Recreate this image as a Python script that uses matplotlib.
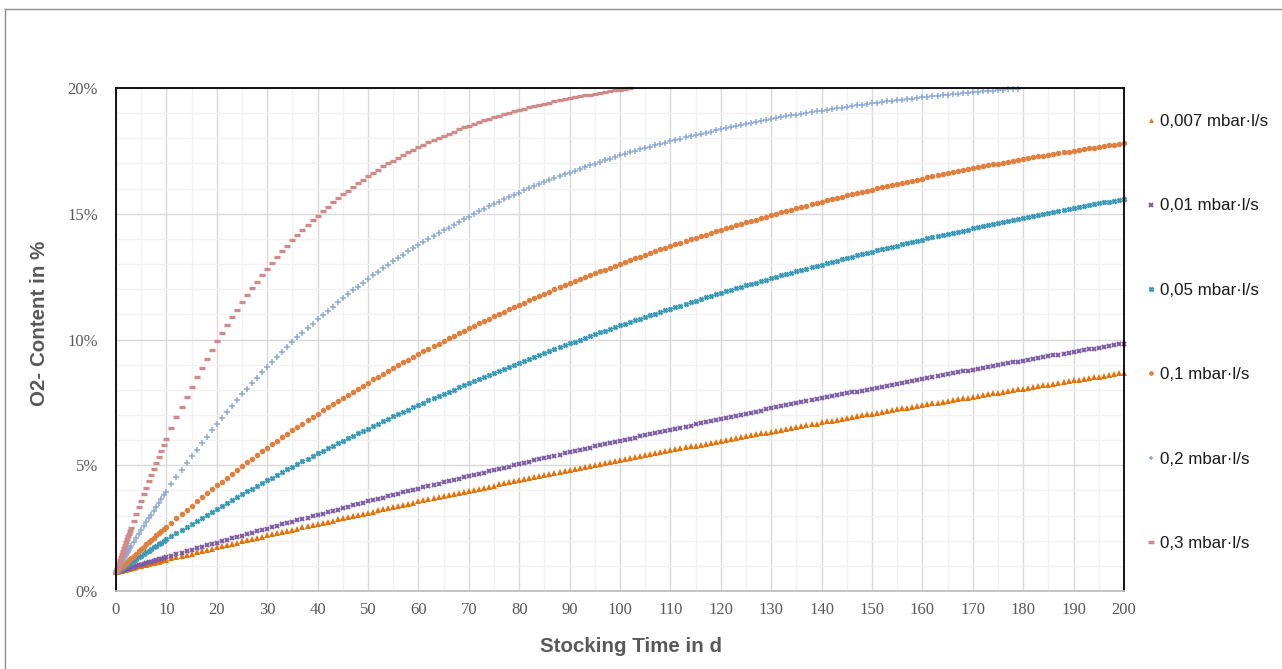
import matplotlib
matplotlib.use("Agg")
import matplotlib.pyplot as plt
from matplotlib.lines import Line2D
from matplotlib.ticker import MultipleLocator, PercentFormatter

# --- data (O2 content in %, per day) ---
days_early = [0, 0.2, 0.4, 0.6, 0.8, 1.0, 1.2, 1.4, 1.6, 1.8, 2.0, 2.2, 2.4, 2.6, 2.8, 3.0,
              3.5, 4, 4.5, 5, 5.5, 6, 6.5, 7, 7.5, 8, 8.5, 9, 9.5, 10]
days_daily = list(range(11, 201))

labels = ["0,007 mbar·l/s", "0,01 mbar·l/s", "0,05 mbar·l/s",
          "0,1 mbar·l/s", "0,2 mbar·l/s", "0,3 mbar·l/s"]

leak_0007 = [0.75, 0.76, 0.77, 0.78, 0.79, 0.80, 0.81, 0.82, 0.83, 0.84, 0.85, 0.86, 0.87, 0.88, 0.89, 0.90,
             0.93, 0.95, 0.98, 1.00, 1.03, 1.05, 1.07, 1.10, 1.12, 1.15, 1.17, 1.20, 1.22, 1.25,
             1.30, 1.34, 1.39, 1.44, 1.49, 1.54, 1.59, 1.64, 1.68, 1.73,
             1.78, 1.83, 1.87, 1.92, 1.97, 2.02, 2.06, 2.11, 2.16, 2.21,
             2.25, 2.30, 2.34, 2.39, 2.44, 2.48, 2.53, 2.58, 2.62, 2.67,
             2.71, 2.76, 2.80, 2.85, 2.89, 2.94, 2.98, 3.03, 3.07, 3.12,
             3.16, 3.21, 3.25, 3.29, 3.34, 3.38, 3.43, 3.47, 3.51, 3.56,
             3.60, 3.64, 3.69, 3.73, 3.77, 3.81, 3.86, 3.90, 3.94, 3.98,
             4.03, 4.07, 4.11, 4.15, 4.19, 4.24, 4.28, 4.32, 4.36, 4.40,
             4.44, 4.48, 4.52, 4.57, 4.61, 4.65, 4.69, 4.73, 4.77, 4.81,
             4.85, 4.89, 4.93, 4.97, 5.01, 5.05, 5.09, 5.13, 5.17, 5.21,
             5.25, 5.28, 5.32, 5.36, 5.40, 5.44, 5.48, 5.52, 5.56, 5.59,
             5.63, 5.67, 5.71, 5.75, 5.78, 5.82, 5.86, 5.90, 5.93, 5.97,
             6.01, 6.05, 6.08, 6.12, 6.16, 6.19, 6.23, 6.27, 6.30, 6.34,
             6.38, 6.41, 6.45, 6.48, 6.52, 6.56, 6.59, 6.63, 6.66, 6.70,
             6.74, 6.77, 6.81, 6.84, 6.88, 6.91, 6.95, 6.98, 7.02, 7.05,
             7.09, 7.12, 7.15, 7.19, 7.22, 7.26, 7.29, 7.32, 7.36, 7.39,
             7.43, 7.46, 7.49, 7.53, 7.56, 7.59, 7.63, 7.66, 7.69, 7.73,
             7.76, 7.79, 7.82, 7.86, 7.89, 7.92, 7.95, 7.99, 8.02, 8.05,
             8.08, 8.12, 8.15, 8.18, 8.21, 8.24, 8.27, 8.31, 8.34, 8.37,
             8.40, 8.43, 8.46, 8.49, 8.52, 8.55, 8.59, 8.62, 8.65, 8.68]

leak_001 = [0.75, 0.76, 0.77, 0.79, 0.80, 0.81, 0.82, 0.83, 0.85, 0.86, 0.87, 0.88, 0.89, 0.91, 0.92, 0.93,
            0.96, 0.99, 1.02, 1.05, 1.08, 1.11, 1.14, 1.17, 1.20, 1.23, 1.26, 1.29, 1.32, 1.35,
            1.40, 1.46, 1.52, 1.58, 1.63, 1.69, 1.75, 1.81, 1.87, 1.92,
            1.98, 2.04, 2.09, 2.15, 2.20, 2.26, 2.32, 2.37, 2.43, 2.48,
            2.54, 2.59, 2.65, 2.70, 2.76, 2.81, 2.87, 2.92, 2.97, 3.03,
            3.08, 3.13, 3.19, 3.24, 3.29, 3.35, 3.40, 3.45, 3.50, 3.56,
            3.61, 3.66, 3.71, 3.76, 3.81, 3.86, 3.92, 3.97, 4.02, 4.07,
            4.12, 4.17, 4.22, 4.27, 4.32, 4.37, 4.42, 4.47, 4.52, 4.57,
            4.61, 4.66, 4.71, 4.76, 4.81, 4.86, 4.90, 4.95, 5.00, 5.05,
            5.10, 5.14, 5.19, 5.24, 5.28, 5.33, 5.38, 5.42, 5.47, 5.52,
            5.56, 5.61, 5.65, 5.70, 5.75, 5.79, 5.84, 5.88, 5.93, 5.97,
            6.02, 6.06, 6.10, 6.15, 6.19, 6.24, 6.28, 6.33, 6.37, 6.41,
            6.46, 6.50, 6.54, 6.58, 6.63, 6.67, 6.71, 6.76, 6.80, 6.84,
            6.88, 6.92, 6.97, 7.01, 7.05, 7.09, 7.13, 7.17, 7.22, 7.26,
            7.30, 7.34, 7.38, 7.42, 7.46, 7.50, 7.54, 7.58, 7.62, 7.66,
            7.70, 7.74, 7.78, 7.82, 7.86, 7.90, 7.93, 7.97, 8.01, 8.05,
            8.09, 8.13, 8.17, 8.20, 8.24, 8.28, 8.32, 8.36, 8.39, 8.43,
            8.47, 8.51, 8.54, 8.58, 8.62, 8.65, 8.69, 8.73, 8.76, 8.80,
            8.84, 8.87, 8.91, 8.94, 8.98, 9.01, 9.05, 9.09, 9.12, 9.16,
            9.19, 9.23, 9.26, 9.30, 9.33, 9.37, 9.40, 9.44, 9.47, 9.50,
            9.54, 9.57, 9.61, 9.64, 9.67, 9.71, 9.74, 9.77, 9.81, 9.84]

leak_005 = [0.75, 0.78, 0.80, 0.83, 0.86, 0.88, 0.91, 0.94, 0.96, 0.99, 1.02, 1.04, 1.07, 1.10, 1.12, 1.15,
            1.21, 1.28, 1.35, 1.41, 1.48, 1.54, 1.61, 1.67, 1.73, 1.80, 1.86, 1.92, 1.99, 2.05,
            2.18, 2.30, 2.42, 2.55, 2.67, 2.79, 2.91, 3.03, 3.15, 3.27,
            3.38, 3.50, 3.62, 3.73, 3.84, 3.96, 4.07, 4.18, 4.29, 4.40,
            4.51, 4.62, 4.73, 4.84, 4.95, 5.05, 5.16, 5.26, 5.37, 5.47,
            5.57, 5.67, 5.77, 5.88, 5.98, 6.07, 6.17, 6.27, 6.37, 6.46,
            6.56, 6.66, 6.75, 6.84, 6.94, 7.03, 7.12, 7.21, 7.31, 7.40,
            7.49, 7.58, 7.66, 7.75, 7.84, 7.93, 8.01, 8.10, 8.18, 8.27,
            8.35, 8.43, 8.52, 8.60, 8.68, 8.76, 8.84, 8.92, 9.00, 9.08,
            9.16, 9.24, 9.32, 9.39, 9.47, 9.55, 9.62, 9.70, 9.77, 9.85,
            9.92, 9.99, 10.06, 10.14, 10.21, 10.28, 10.35, 10.42, 10.49, 10.56,
            10.63, 10.70, 10.76, 10.83, 10.90, 10.96, 11.03, 11.10, 11.16, 11.23,
            11.29, 11.35, 11.42, 11.48, 11.54, 11.60, 11.67, 11.73, 11.79, 11.85,
            11.91, 11.97, 12.03, 12.09, 12.15, 12.21, 12.26, 12.32, 12.38, 12.43,
            12.49, 12.55, 12.60, 12.66, 12.71, 12.77, 12.82, 12.87, 12.93, 12.98,
            13.03, 13.08, 13.14, 13.19, 13.24, 13.29, 13.34, 13.39, 13.44, 13.49,
            13.54, 13.59, 13.64, 13.69, 13.73, 13.78, 13.83, 13.88, 13.92, 13.97,
            14.02, 14.06, 14.11, 14.15, 14.20, 14.24, 14.29, 14.33, 14.37, 14.42,
            14.46, 14.50, 14.54, 14.59, 14.63, 14.67, 14.71, 14.75, 14.79, 14.84,
            14.88, 14.92, 14.96, 14.99, 15.03, 15.07, 15.11, 15.15, 15.19, 15.23,
            15.26, 15.30, 15.34, 15.38, 15.41, 15.45, 15.48, 15.52, 15.56, 15.59]

leak_01 = [0.75, 0.79, 0.83, 0.86, 0.90, 0.94, 0.98, 1.01, 1.05, 1.09, 1.12, 1.16, 1.20, 1.24, 1.27, 1.31,
           1.40, 1.49, 1.58, 1.67, 1.76, 1.85, 1.94, 2.03, 2.12, 2.21, 2.29, 2.38, 2.47, 2.55,
           2.72, 2.89, 3.06, 3.23, 3.39, 3.56, 3.72, 3.88, 4.04, 4.20,
           4.35, 4.51, 4.66, 4.81, 4.96, 5.11, 5.26, 5.40, 5.55, 5.69,
           5.83, 5.97, 6.11, 6.25, 6.39, 6.52, 6.66, 6.79, 6.92, 7.05,
           7.18, 7.31, 7.44, 7.56, 7.69, 7.81, 7.93, 8.05, 8.17, 8.29,
           8.41, 8.52, 8.64, 8.75, 8.87, 8.98, 9.09, 9.20, 9.31, 9.42,
           9.53, 9.63, 9.74, 9.84, 9.94, 10.05, 10.15, 10.25, 10.35, 10.45,
           10.54, 10.64, 10.74, 10.83, 10.92, 11.02, 11.11, 11.20, 11.29, 11.38,
           11.47, 11.56, 11.65, 11.73, 11.82, 11.90, 11.99, 12.07, 12.15, 12.23,
           12.32, 12.40, 12.47, 12.55, 12.63, 12.71, 12.78, 12.86, 12.94, 13.01,
           13.08, 13.16, 13.23, 13.30, 13.37, 13.44, 13.51, 13.58, 13.65, 13.72,
           13.78, 13.85, 13.91, 13.98, 14.04, 14.11, 14.17, 14.23, 14.30, 14.36,
           14.42, 14.48, 14.54, 14.60, 14.66, 14.72, 14.77, 14.83, 14.89, 14.94,
           15.00, 15.05, 15.11, 15.16, 15.22, 15.27, 15.32, 15.37, 15.43, 15.48,
           15.53, 15.58, 15.63, 15.68, 15.73, 15.77, 15.82, 15.87, 15.92, 15.96,
           16.01, 16.05, 16.10, 16.14, 16.19, 16.23, 16.28, 16.32, 16.36, 16.40,
           16.45, 16.49, 16.53, 16.57, 16.61, 16.65, 16.69, 16.73, 16.77, 16.81,
           16.84, 16.88, 16.92, 16.96, 16.99, 17.03, 17.07, 17.10, 17.14, 17.17,
           17.21, 17.24, 17.28, 17.31, 17.34, 17.38, 17.41, 17.44, 17.47, 17.51,
           17.54, 17.57, 17.60, 17.63, 17.66, 17.69, 17.72, 17.75, 17.78, 17.81]

# stops where the curve runs above the 20 % axis limit
leak_02 = [0.75, 0.82, 0.89, 0.96, 1.03, 1.10, 1.16, 1.23, 1.30, 1.37, 1.43, 1.50, 1.57, 1.63, 1.70, 1.77,
           1.93, 2.09, 2.26, 2.42, 2.58, 2.73, 2.89, 3.04, 3.20, 3.35, 3.50, 3.65, 3.80, 3.95,
           4.24, 4.52, 4.80, 5.08, 5.35, 5.61, 5.88, 6.13, 6.39, 6.64,
           6.88, 7.12, 7.36, 7.59, 7.82, 8.04, 8.26, 8.48, 8.69, 8.90,
           9.10, 9.31, 9.50, 9.70, 9.89, 10.08, 10.26, 10.45, 10.63, 10.80,
           10.97, 11.14, 11.31, 11.48, 11.64, 11.80, 11.95, 12.10, 12.25, 12.40,
           12.55, 12.69, 12.83, 12.97, 13.11, 13.24, 13.37, 13.50, 13.63, 13.75,
           13.87, 13.99, 14.11, 14.23, 14.34, 14.45, 14.57, 14.67, 14.78, 14.89,
           14.99, 15.09, 15.19, 15.29, 15.38, 15.48, 15.57, 15.66, 15.75, 15.84,
           15.93, 16.01, 16.09, 16.18, 16.26, 16.34, 16.42, 16.49, 16.57, 16.64,
           16.71, 16.79, 16.86, 16.93, 16.99, 17.06, 17.13, 17.19, 17.26, 17.32,
           17.38, 17.44, 17.50, 17.56, 17.61, 17.67, 17.73, 17.78, 17.83, 17.89,
           17.94, 17.99, 18.04, 18.09, 18.13, 18.18, 18.23, 18.27, 18.32, 18.36,
           18.41, 18.45, 18.49, 18.53, 18.57, 18.61, 18.65, 18.69, 18.73, 18.77,
           18.80, 18.84, 18.87, 18.91, 18.94, 18.98, 19.01, 19.04, 19.07, 19.10,
           19.13, 19.17, 19.19, 19.22, 19.25, 19.28, 19.31, 19.34, 19.36, 19.39,
           19.41, 19.44, 19.47, 19.49, 19.51, 19.54, 19.56, 19.58, 19.61, 19.63,
           19.65, 19.67, 19.69, 19.71, 19.73, 19.75, 19.77, 19.79, 19.81, 19.83,
           19.85, 19.87, 19.88, 19.90, 19.92, 19.94, 19.95, 19.97, 19.98]

leak_03 = [0.75, 0.87, 0.99, 1.11, 1.23, 1.35, 1.47, 1.59, 1.71, 1.82, 1.94, 2.05, 2.17, 2.28, 2.39, 2.51,
           2.78, 3.06, 3.33, 3.59, 3.85, 4.11, 4.36, 4.61, 4.86, 5.10, 5.34, 5.57, 5.80, 6.03,
           6.48, 6.91, 7.33, 7.73, 8.13, 8.51, 8.88, 9.24, 9.59, 9.93,
           10.26, 10.58, 10.89, 11.19, 11.48, 11.76, 12.03, 12.30, 12.56, 12.81,
           13.05, 13.28, 13.51, 13.73, 13.95, 14.15, 14.36, 14.55, 14.74, 14.93,
           15.11, 15.28, 15.45, 15.61, 15.77, 15.92, 16.07, 16.22, 16.36, 16.49,
           16.63, 16.75, 16.88, 17.00, 17.11, 17.23, 17.34, 17.44, 17.55, 17.65,
           17.75, 17.84, 17.93, 18.02, 18.11, 18.19, 18.27, 18.35, 18.43, 18.50,
           18.57, 18.64, 18.71, 18.78, 18.84, 18.90, 18.96, 19.02, 19.07, 19.13,
           19.18, 19.23, 19.28, 19.33, 19.38, 19.42, 19.47, 19.51, 19.55, 19.59,
           19.63, 19.67, 19.71, 19.74, 19.78, 19.81, 19.84, 19.88, 19.91, 19.94,
           19.96, 19.99]

series = [leak_0007, leak_001, leak_005, leak_01, leak_02, leak_03]

# --- look ---
styles = [
    dict(marker="^", color="#E8710A", ms=4.0, mew=0),
    dict(marker="x", color="#7C5BA4", ms=3.4, mew=1.4),
    dict(marker="x", color="#3A9AB6", ms=3.4, mew=1.8),
    dict(marker="o", color="#E0803F", ms=4.0, mew=0),
    dict(marker="+", color="#8EA9DA", ms=4.0, mew=1.1),
    dict(marker="_", color="#CF8B8B", ms=5.0, mew=2.4),
]

GRAY_TXT = "#595959"
SERIF = ["Liberation Serif", "DejaVu Serif"]
SANS = ["Liberation Sans", "DejaVu Sans"]

W, H = 1282, 669
fig = plt.figure(figsize=(W / 100, H / 100), dpi=100)
ax = fig.add_axes([116 / W, 1 - 591 / H, (1124 - 116) / W, (591 - 88) / H])

days = days_early + days_daily
handles = []
for vals, lab, st in zip(series, labels, styles):
    x = days[:len(vals)]
    h, = ax.plot(x, vals, linestyle="none", marker=st["marker"], color=st["color"],
                 markersize=st["ms"], markeredgewidth=st["mew"], label=lab, clip_on=False)
    handles.append(h)

ax.set_xlim(0, 200)
ax.set_ylim(0, 20)
ax.xaxis.set_major_locator(MultipleLocator(10))
ax.xaxis.set_minor_locator(MultipleLocator(5))
ax.yaxis.set_major_locator(MultipleLocator(5))
ax.yaxis.set_minor_locator(MultipleLocator(1))
ax.yaxis.set_major_formatter(PercentFormatter(xmax=100, decimals=0))

ax.grid(True, which="major", color="#d9d9d9", lw=1.0)
ax.grid(True, which="minor", color="#f2f2f2", lw=1.0)
ax.set_axisbelow(True)

for s in ["left", "top", "right"]:
    ax.spines[s].set_color("black")
    ax.spines[s].set_linewidth(1.3)
ax.spines["bottom"].set_color("#bfbfbf")
ax.spines["bottom"].set_linewidth(1.3)

ax.tick_params(which="both", length=0)
ax.tick_params(axis="x", pad=8)
ax.tick_params(axis="y", pad=13)
for t in ax.get_xticklabels() + ax.get_yticklabels():
    t.set_family(SERIF)
    t.set_fontsize(12)
    t.set_color(GRAY_TXT)

fig.text(631 / W, 1 - 647 / H, "Stocking Time in d", ha="center", va="center",
         fontsize=14.8, fontweight="bold", color=GRAY_TXT, family=SANS)
fig.text(40 / W, 1 - 323 / H, "O2- Content in %", ha="center", va="center", rotation=90,
         fontsize=14.8, fontweight="bold", color=GRAY_TXT, family=SANS)

leg = ax.legend(handles=handles, loc="upper left", bbox_to_anchor=(1146 / W, 1 - 114 / H),
                bbox_transform=fig.transFigure, frameon=False, borderpad=0, borderaxespad=0,
                handlelength=0.6, handletextpad=0.2, labelspacing=4.1, markerscale=0.85,
                prop={"family": SANS, "size": 12.2})
for t in leg.get_texts():
    t.set_color("#1a1a1a")

# outer chart border
fig.add_artist(Line2D([5 / W, 5 / W], [0, 1 - 9 / H], transform=fig.transFigure,
                      color="#8c8c8c", lw=1.0))
fig.add_artist(Line2D([5 / W, 1], [1 - 9 / H, 1 - 9 / H], transform=fig.transFigure,
                      color="#8c8c8c", lw=1.0))

fig.savefig("out.png", dpi=100)
